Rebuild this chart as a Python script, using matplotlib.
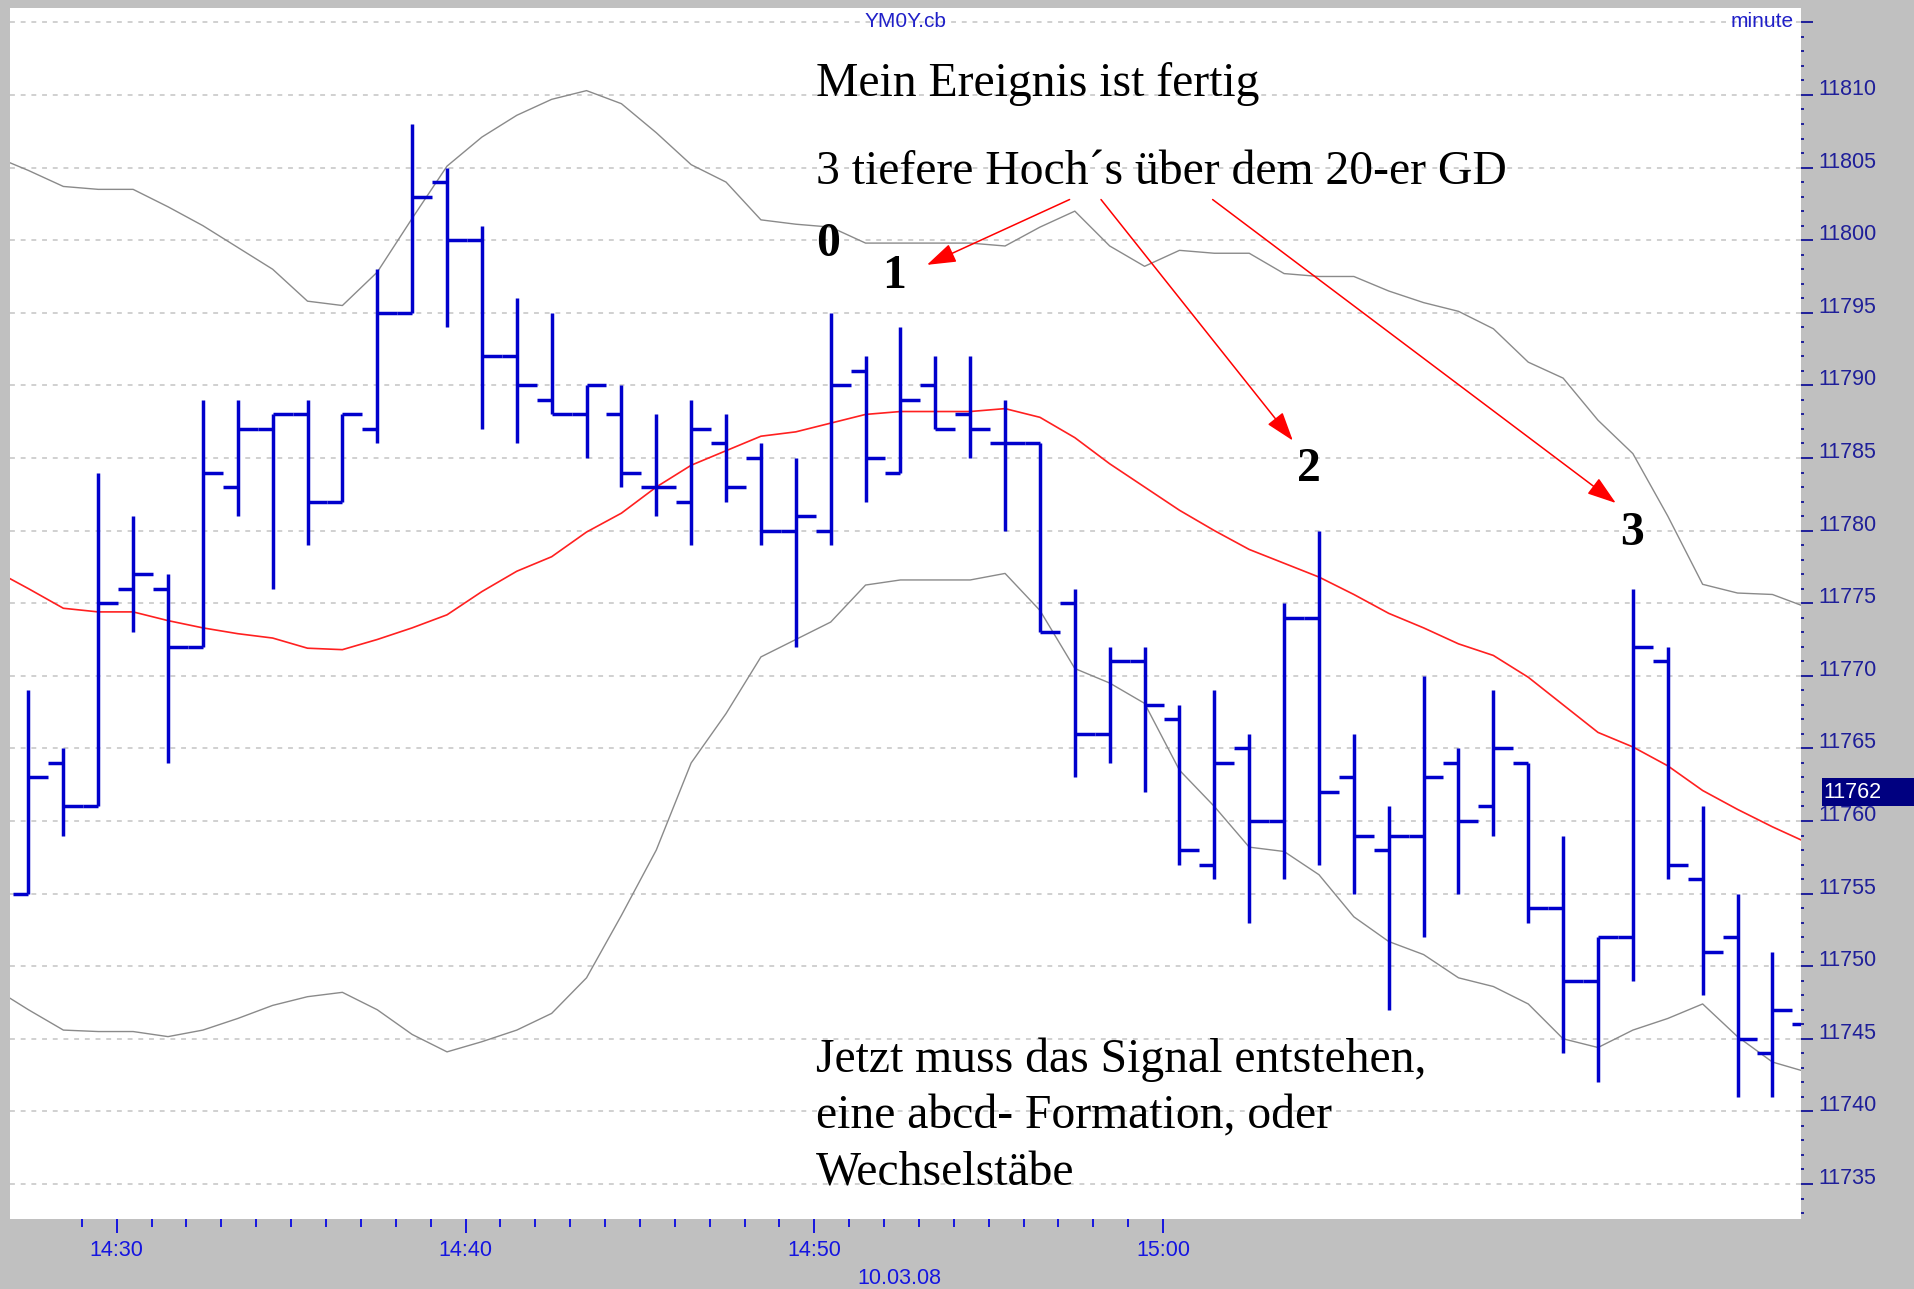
import matplotlib.pyplot as plt
import matplotlib.transforms as mtransforms
from matplotlib.patches import Rectangle
from matplotlib.ticker import FixedLocator, FuncFormatter
import numpy as np

# YM0Y.cb, 1-Minuten-Bars vom 10.03.08, ein Bar pro Minute ab 14:27
bar_minutes = list(range(27, 79))
opens  = [11755, 11764, 11761, 11776, 11776, 11772, 11783, 11787, 11788, 11782,
          11787, 11795, 11804, 11800, 11792, 11789, 11788, 11788, 11783, 11782,
          11786, 11785, 11780, 11780, 11791, 11784, 11790, 11788, 11786, 11786,
          11775, 11766, 11771, 11767, 11757, 11765, 11760, 11774, 11763, 11758,
          11759, 11764, 11761, 11764, 11754, 11749, 11752, 11771, 11756, 11752,
          11744, 11746]
highs  = [11769, 11765, 11784, 11781, 11777, 11789, 11789, 11788, 11789, 11788,
          11798, 11808, 11805, 11801, 11796, 11795, 11790, 11790, 11788, 11789,
          11788, 11786, 11785, 11795, 11792, 11794, 11792, 11792, 11789, 11786,
          11776, 11772, 11772, 11768, 11769, 11766, 11775, 11780, 11766, 11761,
          11770, 11765, 11769, 11764, 11759, 11752, 11776, 11772, 11761, 11755,
          11751, 11747]
lows   = [11755, 11759, 11761, 11773, 11764, 11772, 11781, 11776, 11779, 11782,
          11786, 11795, 11794, 11787, 11786, 11788, 11785, 11783, 11781, 11779,
          11782, 11779, 11772, 11779, 11782, 11784, 11787, 11785, 11780, 11773,
          11763, 11764, 11762, 11757, 11756, 11753, 11756, 11757, 11755, 11747,
          11752, 11755, 11759, 11753, 11744, 11742, 11749, 11756, 11748, 11741,
          11741, 11745]
closes = [11763, 11761, 11775, 11777, 11772, 11784, 11787, 11788, 11782, 11788,
          11795, 11803, 11800, 11792, 11790, 11788, 11790, 11784, 11783, 11787,
          11783, 11780, 11781, 11790, 11785, 11789, 11787, 11787, 11786, 11773,
          11766, 11771, 11768, 11758, 11764, 11760, 11774, 11762, 11759, 11759,
          11763, 11760, 11765, 11754, 11749, 11752, 11772, 11757, 11751, 11745,
          11747, 11746]

# Bollinger-Baender und 20er GD, ein Wert pro Minute ab 14:26
line_minutes = list(range(26, 79))
upper_band = [11805.8, 11804.8, 11803.7, 11803.5, 11803.5, 11802.3, 11801.0, 11799.5, 11798.0, 11795.8,
              11795.5, 11797.8, 11801.5, 11805.1, 11807.1, 11808.6, 11809.7, 11810.3, 11809.4, 11807.4,
              11805.2, 11804.0, 11801.4, 11801.1, 11800.9, 11799.8, 11799.8, 11799.8, 11799.8, 11799.6,
              11800.9, 11802.0, 11799.6, 11798.2, 11799.3, 11799.1, 11799.1, 11797.7, 11797.5, 11797.5,
              11796.5, 11795.7, 11795.1, 11793.9, 11791.6, 11790.5, 11787.6, 11785.3, 11781.0, 11776.3,
              11775.7, 11775.6, 11774.7]
lower_band = [11748.5, 11747.0, 11745.6, 11745.5, 11745.5, 11745.15, 11745.6, 11746.4, 11747.3, 11747.9,
              11748.2, 11747.0, 11745.3, 11744.1, 11744.8, 11745.6, 11746.75, 11749.2, 11753.5, 11758.0,
              11764.0, 11767.4, 11771.3, 11772.5, 11773.7, 11776.25, 11776.6, 11776.6, 11776.6, 11777.05,
              11774.5, 11770.5, 11769.5, 11768.1, 11763.5, 11761.0, 11758.2, 11757.9, 11756.3, 11753.4,
              11751.7, 11750.8, 11749.2, 11748.6, 11747.4, 11745.0, 11744.4, 11745.6, 11746.4, 11747.4,
              11745.15, 11743.4, 11742.7]
sma20 = [11777.3, 11776.0, 11774.65, 11774.4, 11774.4, 11773.8, 11773.3, 11772.9, 11772.6, 11771.9,
         11771.8, 11772.5, 11773.3, 11774.2, 11775.8, 11777.2, 11778.2, 11779.9, 11781.2, 11783.0,
         11784.5, 11785.5, 11786.5, 11786.8, 11787.4, 11788.0, 11788.2, 11788.2, 11788.2, 11788.4,
         11787.8, 11786.4, 11784.6, 11783.0, 11781.4, 11780.0, 11778.7, 11777.75, 11776.8, 11775.6,
         11774.3, 11773.3, 11772.2, 11771.4, 11769.9, 11768.0, 11766.1, 11765.1, 11763.8, 11762.1,
         11760.8, 11759.6, 11758.5]

time_ticks = [30, 40, 50, 60]
time_labels = ["14:30", "14:40", "14:50", "15:00"]
price_ticks = list(range(11735, 11820, 5))
last_price = 11762

notes_top = ["Mein Ereignis ist fertig", "3 tiefere Hoch\u00b4s \u00fcber dem 20-er GD"]
notes_bottom = ["Jetzt muss das Signal entstehen,", "eine abcd- Formation, oder", "Wechselst\u00e4be"]
# Nummern der Hochs: (Text, Minute, Kurs)
points = [("0", 50.05, 11798.9), ("1", 51.94, 11796.7), ("2", 63.84, 11783.4), ("3", 73.1, 11779.0)]
# Pfeile: (von Minute, von Kurs, nach Minute, nach Kurs)
arrows = [(57.32, 11802.8, 53.23, 11798.3),
          (58.22, 11802.8, 63.72, 11786.2),
          (61.42, 11802.8, 72.98, 11781.9)]

bar_col = "#0000cc"
xlab_col = "#1515e0"
ylab_col = "#1f1f99"
sans = ["Liberation Sans", "DejaVu Sans"]
serif = ["Liberation Serif", "DejaVu Serif"]

W, H = 1915, 1289
fig = plt.figure(figsize=(W / 100, H / 100), dpi=100, facecolor="#c0c0c0")
ax = fig.add_axes([10 / W, (H - 1219) / H, (1801 - 10) / W, (1219 - 8) / H])
ax.set_facecolor("white")
for s in ax.spines.values():
    s.set_visible(False)

ax.set_xlim(26.94, 78.29)
ax.set_ylim(11732.59, 11815.99)

# Linien
lx = np.array(line_minutes) + 0.47
ax.plot(lx, upper_band, color="#8a8a8a", lw=1.0, zorder=2)
ax.plot(lx, lower_band, color="#8a8a8a", lw=1.0, zorder=2)
ax.plot(lx, sma20, color="#ff2020", lw=1.2, zorder=2)

# OHLC-Bars
bx = np.array(bar_minutes) + 0.47
ax.vlines(bx, lows, highs, colors=bar_col, lw=2.5, capstyle="butt", zorder=3)
ax.hlines(opens, bx - 0.43, bx, colors=bar_col, lw=2.5, capstyle="butt", zorder=3)
ax.hlines(closes, bx, bx + 0.57, colors=bar_col, lw=2.5, capstyle="butt", zorder=3)

# Raster
ax.yaxis.set_major_locator(FixedLocator(price_ticks))
ax.yaxis.set_minor_locator(FixedLocator(list(range(11733, 11817))))
ax.grid(axis="y", which="major", color="#c4c4c4", lw=1.1, linestyle=(0, (3.2, 3.8)), zorder=1)

# Achsen
ax.yaxis.tick_right()
ax.yaxis.set_major_formatter(FuncFormatter(lambda v, p: "" if v > 11812 else f"{int(v)}"))
ax.tick_params(axis="y", which="major", direction="out", length=8.6, width=1.4,
               colors=ylab_col, labelsize=15.5, pad=4)
ax.tick_params(axis="y", which="minor", direction="out", length=2.2, width=1.4, color=ylab_col)
for lab in ax.get_yticklabels():
    lab.set_verticalalignment("baseline")
    lab.set_family(sans)

ax.xaxis.set_major_locator(FixedLocator(time_ticks))
ax.xaxis.set_minor_locator(FixedLocator([m for m in range(29, 61) if m not in time_ticks]))
ax.set_xticklabels(time_labels)
ax.tick_params(axis="x", which="major", direction="out", length=10, width=1.4,
               colors=xlab_col, labelsize=15.5, pad=5)
ax.tick_params(axis="x", which="minor", direction="out", length=5.8, width=1.4, color=xlab_col)
for lab in ax.get_xticklabels():
    lab.set_family(sans)

# Kopfzeile
ax.text(0.5, 0.9885, "YM0Y.cb", transform=ax.transAxes, ha="center", va="center",
        color="#2020c8", fontsize=15, family=sans)
ax.text(0.9958, 0.9885, "minute", transform=ax.transAxes, ha="right", va="center",
        color="#2020c8", fontsize=15, family=sans)
trans_xf = mtransforms.blended_transform_factory(ax.transData, fig.transFigure)
ax.text(52.43, (H - 1268) / H, "10.03.08", transform=trans_xf, ha="center", va="top",
        color=xlab_col, fontsize=15.5, family=sans, clip_on=False)

# letzter Kurs
fig.patches.append(Rectangle((1822 / W, (H - 806) / H), (W - 1822) / W, 28 / H,
                             transform=fig.transFigure, facecolor="#000080", edgecolor="none", zorder=5))
fig.text(1823 / W, (H - 792) / H, str(last_price), ha="left", va="center",
         color="white", fontsize=15.5, family=sans, zorder=6)

# Anmerkungen
ax.text(50.05, 11809.9, notes_top[0], ha="left", va="baseline", fontsize=34.3, family=serif, zorder=4)
ax.text(50.05, 11803.9, notes_top[1], ha="left", va="baseline", fontsize=34.3, family=serif, zorder=4)
for i, line in enumerate(notes_bottom):
    ax.text(50.05, [11742.74, 11738.84, 11734.89][i], line, ha="left", va="baseline",
            fontsize=34.3, family=serif, zorder=4)
for label, xm, yv in points:
    ax.text(xm, yv, label, ha="left", va="baseline", fontsize=34.3, fontweight="bold",
            family=serif, zorder=4)
for x0, y0, x1, y1 in arrows:
    ax.annotate("", xy=(x1, y1), xytext=(x0, y0),
                arrowprops=dict(arrowstyle="-|>,head_length=0.9,head_width=0.3", color="#ff0000",
                                lw=1.1, shrinkA=0, shrinkB=0, mutation_scale=20), zorder=4)

fig.savefig("out.png", dpi=100, facecolor=fig.get_facecolor())
